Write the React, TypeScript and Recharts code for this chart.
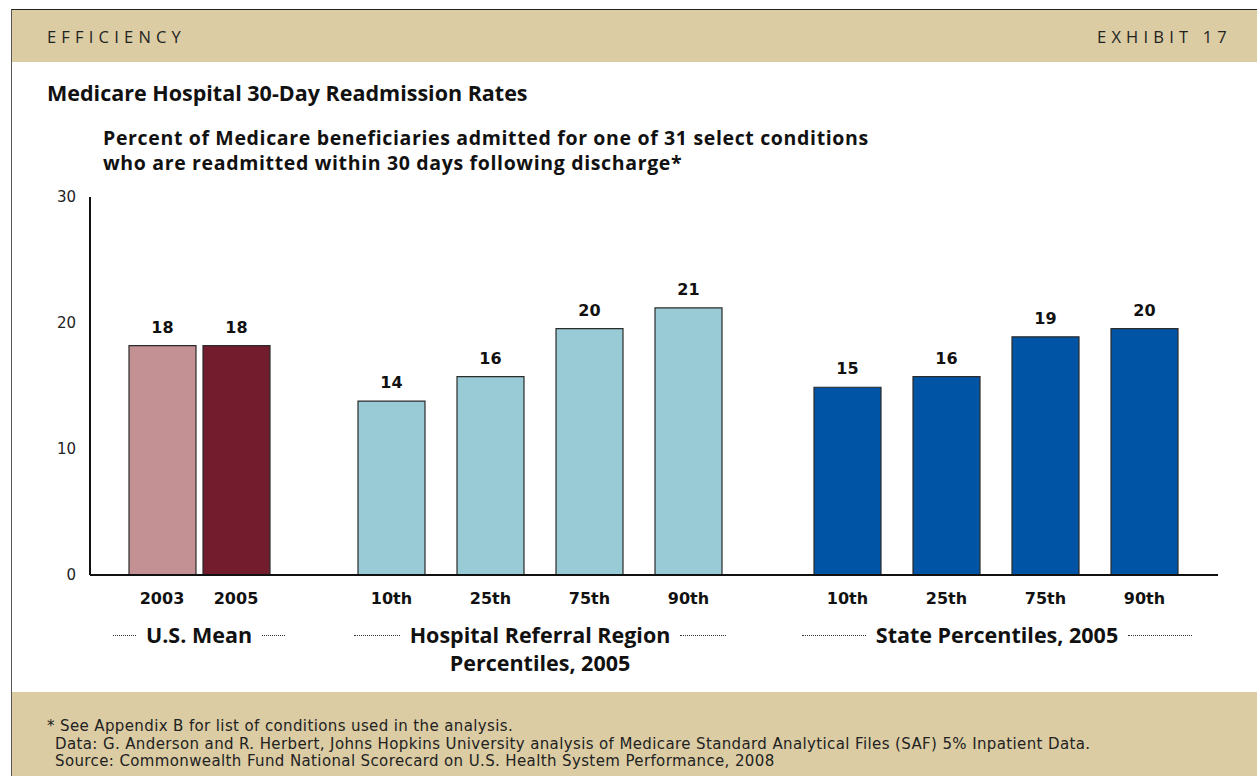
import React from "react";
import { BarChart, Bar, XAxis, YAxis, Cell, LabelList } from "recharts";

// values (percent readmitted within 30 days)
const usYears = ["2003", "2005"];
const usMean = [18.2, 18.2];
const hrrPercentiles = ["10th", "25th", "75th", "90th"];
const hrrRates = [13.8, 15.75, 19.55, 21.2];
const statePercentiles = ["10th", "25th", "75th", "90th"];
const stateRates = [14.9, 15.75, 18.9, 19.55];
const yTicks = [0, 10, 20, 30];

const footnotes = [
  "* See Appendix B for list of conditions used in the analysis.",
  "Data: G. Anderson and R. Herbert, Johns Hopkins University analysis of Medicare Standard Analytical Files (SAF) 5% Inpatient Data.",
  "Source: Commonwealth Fund National Scorecard on U.S. Health System Performance, 2008",
];

const TAN = "#dbcca3";
const INK = "#111";
const HUMANIST = "'Open Sans', 'Noto Sans', sans-serif";
const VERDANA = "'DejaVu Sans', sans-serif";

const CHART_TOP = 180;
const CHART_H = 440;

interface GroupProps {
  cats: string[];
  values: number[];
  colors: string[];
  left: number;
  width: number;
  pad: { left: number; right: number };
  withY?: boolean;
}

const Group: React.FC<GroupProps> = ({ cats, values, colors, left, width, pad, withY }) => {
  const data = cats.map((c, i) => ({ cat: c, rate: values[i] }));
  return (
    <div style={{ position: "absolute", left, top: CHART_TOP }}>
      <BarChart
        width={width}
        height={CHART_H}
        data={data}
        margin={{ top: 17, right: 0, left: 0, bottom: 0 }}
      >
        <XAxis
          dataKey="cat"
          interval={0}
          padding={pad}
          height={45}
          axisLine={{ stroke: INK, strokeWidth: 2 }}
          tickLine={false}
          tickSize={0}
          tickMargin={18}
          tick={{ fill: INK, fontSize: 16, fontWeight: 700, fontFamily: VERDANA }}
        />
        <YAxis
          hide={!withY}
          width={90}
          domain={[0, 30]}
          ticks={yTicks}
          interval={0}
          axisLine={{ stroke: INK, strokeWidth: 2 }}
          tickLine={false}
          tickSize={0}
          tickMargin={14}
          tick={{ fill: "#222", fontSize: 15, fontFamily: VERDANA }}
        />
        <Bar dataKey="rate" barSize={67} stroke="#2b2b2b" strokeWidth={1.2} isAnimationActive={false}>
          {data.map((d, i) => (
            <Cell key={d.cat + i} fill={colors[i % colors.length]} />
          ))}
          <LabelList
            dataKey="rate"
            position="top"
            offset={13}
            formatter={(v: any) => Math.round(Number(v))}
            fill={INK}
            fontSize={16}
            fontWeight={700}
            fontFamily={VERDANA}
          />
        </Bar>
      </BarChart>
    </div>
  );
};

const Dots: React.FC<{ w: number }> = ({ w }) => (
  <span style={{ display: "inline-block", width: w, borderTop: "1.5px dotted #333", margin: "0 10px" }} />
);

const GroupLabel: React.FC<{ center: number; text: string; dots: number; second?: string }> = ({
  center,
  text,
  dots,
  second,
}) => (
  <div
    style={{
      position: "absolute",
      left: center - 250,
      width: 500,
      top: 621,
      fontFamily: HUMANIST,
      fontWeight: 700,
      fontSize: 21.5,
      lineHeight: "28px",
      color: INK,
      textAlign: "center",
    }}
  >
    <div style={{ display: "flex", justifyContent: "center", alignItems: "center" }}>
      <Dots w={dots} />
      <span>{text}</span>
      <Dots w={dots} />
    </div>
    {second && <div>{second}</div>}
  </div>
);

export default function App() {
  return (
    <div
      style={{
        position: "absolute",
        left: 0,
        top: 0,
        width: 1257,
        height: 776,
        background: "#fff",
        overflow: "hidden",
        fontFamily: HUMANIST,
      }}
    >
      {/* frame */}
      <div
        style={{
          position: "absolute",
          left: 11,
          top: 9,
          width: 1260,
          height: 780,
          borderTop: "1px solid #222",
          borderLeft: "1px solid #555",
        }}
      />
      {/* header band */}
      <div style={{ position: "absolute", left: 12, top: 10, width: 1245, height: 52, background: TAN }} />
      <div
        style={{
          position: "absolute",
          left: 47,
          top: 25,
          fontSize: 16.5,
          letterSpacing: 5.2,
          color: "#222",
        }}
      >
        EFFICIENCY
      </div>
      <div
        style={{
          position: "absolute",
          right: 25,
          top: 25,
          fontSize: 16.5,
          letterSpacing: 5.2,
          color: "#222",
        }}
      >
        EXHIBIT 17
      </div>

      {/* titles */}
      <div style={{ position: "absolute", left: 47, top: 78, fontSize: 21.5, fontWeight: 700, color: INK }}>
        Medicare Hospital 30-Day Readmission Rates
      </div>
      <div
        style={{
          position: "absolute",
          left: 103,
          top: 125,
          fontSize: 19.5,
          fontWeight: 700,
          letterSpacing: 0.65,
          lineHeight: "25px",
          color: INK,
        }}
      >
        Percent of Medicare beneficiaries admitted for one of 31 select conditions
        <br />
        who are readmitted within 30 days following discharge*
      </div>

      {/* the three bar groups share one y scale */}
      <Group
        cats={usYears}
        values={usMean}
        colors={["#c39094", "#731c2e"]}
        left={0}
        width={314}
        pad={{ left: 35, right: 41 }}
        withY
      />
      <Group
        cats={hrrPercentiles}
        values={hrrRates}
        colors={["#98cbd5"]}
        left={314}
        width={454}
        pad={{ left: 28, right: 30 }}
      />
      <Group
        cats={statePercentiles}
        values={stateRates}
        colors={["#0054a5"]}
        left={768}
        width={450}
        pad={{ left: 30, right: 24 }}
      />

      <GroupLabel center={199} text="U.S. Mean" dots={23} />
      <GroupLabel center={540} text="Hospital Referral Region" dots={46} second="Percentiles, 2005" />
      <GroupLabel center={997} text="State Percentiles, 2005" dots={64} />

      {/* footer band */}
      <div style={{ position: "absolute", left: 12, top: 692, width: 1245, height: 84, background: TAN }} />
      <div
        style={{
          position: "absolute",
          left: 47,
          top: 718,
          fontFamily: VERDANA,
          fontSize: 15,
          letterSpacing: 0.38,
          lineHeight: "17.5px",
          color: "#222",
        }}
      >
        <div>{footnotes[0]}</div>
        <div style={{ paddingLeft: 8 }}>{footnotes[1]}</div>
        <div style={{ paddingLeft: 8 }}>{footnotes[2]}</div>
      </div>
    </div>
  );
}
